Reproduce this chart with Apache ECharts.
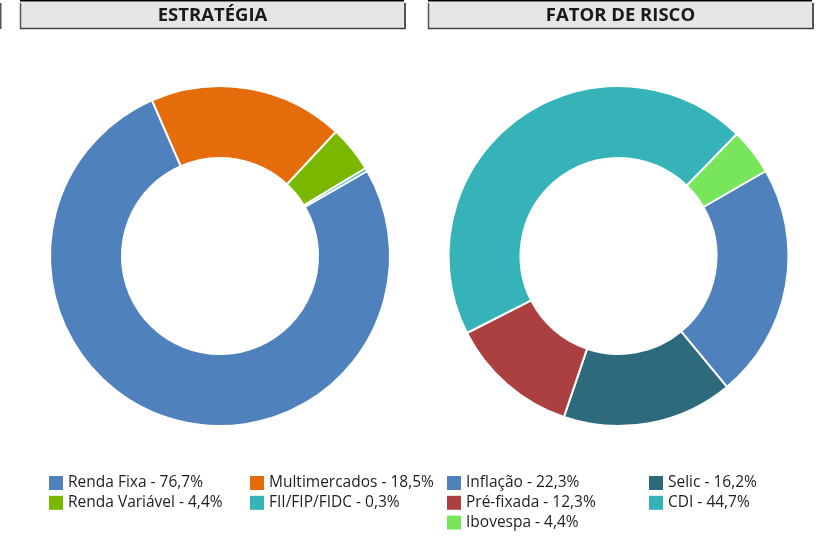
<!DOCTYPE html>
<html>
<head>
<meta charset="utf-8">
<script src="https://cdn.jsdelivr.net/npm/echarts@6/dist/echarts.min.js"></script>
<style>
html,body{margin:0;padding:0;background:#fff;}
#chart{width:817px;height:537px;}
</style>
</head>
<body>
<div id="chart"></div>
<script>
// Data
const estrategiaTitle = 'ESTRATÉGIA';
const estrategiaNames = ['Renda Fixa', 'Multimercados', 'Renda Variável', 'FII/FIP/FIDC'];
const estrategiaValues = [76.7, 18.5, 4.4, 0.3];
const estrategiaColors = ['#4F81BD', '#E46C0A', '#7AB800', '#35B3B7'];

const riscoTitle = 'FATOR DE RISCO';
const riscoNames = ['Inflação', 'Selic', 'Pré-fixada', 'CDI', 'Ibovespa'];
const riscoValues = [22.3, 16.2, 12.3, 44.7, 4.4];
const riscoColors = ['#4F81BD', '#2D6B7C', '#AA4040', '#35B3B8', '#77E65A'];

const FONT = '"Open Sans", "Noto Sans", sans-serif';

function fmt(v) { return v.toFixed(1).replace('.', ','); }
const valueMap = {};
estrategiaNames.forEach((n, i) => valueMap[n] = estrategiaValues[i]);
riscoNames.forEach((n, i) => valueMap[n] = riscoValues[i]);

function pieData(names, values, colors) {
  return names.map((n, i) => ({ name: n, value: values[i], itemStyle: { color: colors[i] } }));
}

function legend(x, names) {
  return {
    left: x, top: 475, orient: 'vertical', padding: 0,
    itemWidth: 14, itemHeight: 14, itemGap: 3.8,
    icon: 'rect', selectedMode: false,
    itemStyle: { borderWidth: 0 },
    data: names,
    formatter: n => n + ' - ' + fmt(valueMap[n]) + '%',
    textStyle: { fontFamily: FONT, fontSize: 15.5, color: '#1e1e1e', lineHeight: 14 }
  };
}

function titleBox(x, w, text) {
  return [
    { type: 'rect', shape: { x: x, y: 2, width: w, height: 27 }, style: { fill: '#e6e6e6' } },
    { type: 'line', shape: { x1: x, y1: 0.5, x2: x + w - 1, y2: 0.5 }, style: { stroke: '#000', lineWidth: 2 } },
    { type: 'line', shape: { x1: x + 0.5, y1: 3, x2: x + 0.5, y2: 29 }, style: { stroke: '#555', lineWidth: 1.5 } },
    { type: 'line', shape: { x1: x, y1: 28.5, x2: x + w + 1, y2: 28.5 }, style: { stroke: '#444', lineWidth: 1.5 } },
    { type: 'line', shape: { x1: x + w, y1: 3, x2: x + w, y2: 29 }, style: { stroke: '#555', lineWidth: 2 } },
    { type: 'text', x: x + w / 2, y: 16, style: { text: text, fill: '#1a1a1a', font: 'bold 18.5px ' + FONT, align: 'center', verticalAlign: 'middle' } }
  ];
}

const chart = echarts.init(document.getElementById('chart'), null, { renderer: 'canvas' });
chart.setOption({
  animation: false,
  backgroundColor: '#fff',
  graphic: [
    { type: 'line', shape: { x1: 0.5, y1: 3, x2: 0.5, y2: 29 }, style: { stroke: '#555', lineWidth: 2 } }
  ].concat(titleBox(20, 385, estrategiaTitle), titleBox(428, 385, riscoTitle)),
  legend: [
    legend(49, [estrategiaNames[0], estrategiaNames[2]]),
    legend(250, [estrategiaNames[1], estrategiaNames[3]]),
    legend(447, [riscoNames[0], riscoNames[2], riscoNames[4]]),
    legend(649, [riscoNames[1], riscoNames[3]])
  ],
  series: [
    {
      type: 'pie', center: [220, 256], radius: [98, 170], startAngle: 30, clockwise: true,
      label: { show: false }, labelLine: { show: false }, emphasis: { disabled: true },
      itemStyle: { borderColor: '#fff', borderWidth: 2 },
      data: pieData(estrategiaNames, estrategiaValues, estrategiaColors)
    },
    {
      type: 'pie', center: [618.5, 256], radius: [98, 170], startAngle: 30, clockwise: true,
      label: { show: false }, labelLine: { show: false }, emphasis: { disabled: true },
      itemStyle: { borderColor: '#fff', borderWidth: 2 },
      data: pieData(riscoNames, riscoValues, riscoColors)
    }
  ]
});
</script>
</body>
</html>
